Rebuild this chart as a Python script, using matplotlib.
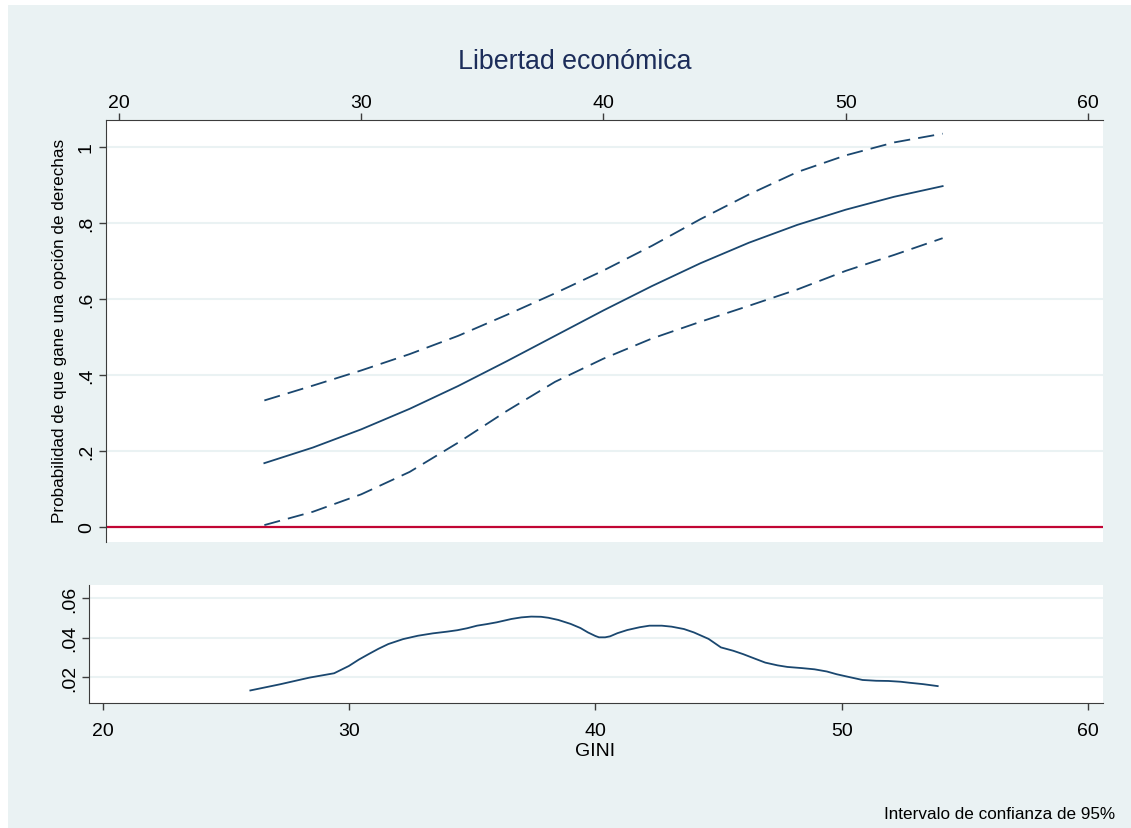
import matplotlib
matplotlib.use("Agg")
import matplotlib.pyplot as plt
from matplotlib.patches import Rectangle

plt.rcParams['font.family'] = ['Liberation Sans', 'DejaVu Sans']

# ---- data ----
gini = [26, 28, 30, 32, 34, 36, 38, 40, 42, 44, 46, 48, 50, 52, 54]
prob = [0.168, 0.209, 0.257, 0.311, 0.371, 0.436, 0.503, 0.570, 0.634,
        0.694, 0.748, 0.795, 0.835, 0.869, 0.897]
upper = [0.333, 0.372, 0.412, 0.455, 0.503, 0.558, 0.615, 0.675, 0.740,
         0.810, 0.875, 0.934, 0.978, 1.012, 1.035]
lower = [0.005, 0.040, 0.086, 0.145, 0.222, 0.305, 0.382, 0.443, 0.496,
         0.540, 0.582, 0.625, 0.674, 0.716, 0.760]

dens_x = [26.0, 27.2, 28.4, 29.4, 30.0, 30.4, 30.8, 31.2, 31.6, 32.2, 32.8,
          33.4, 34.0, 34.4, 34.8, 35.2, 35.6, 36.0, 36.6, 37.0, 37.4, 37.8,
          38.1, 38.5, 39.0, 39.4, 39.7, 40.0, 40.15, 40.4, 40.6, 40.9, 41.3,
          41.8, 42.2, 42.7, 43.1, 43.6, 44.0, 44.6, 45.1, 45.6, 46.0, 46.5,
          46.9, 47.4, 47.8, 48.4, 48.9, 49.4, 49.8, 50.3, 50.85, 51.4, 51.9,
          52.4, 52.75, 53.3, 53.9]
dens_y = [0.0132, 0.0163, 0.0197, 0.0219, 0.0256, 0.0288, 0.0316, 0.0343,
          0.0367, 0.0392, 0.0409, 0.0421, 0.0430, 0.0437, 0.0447, 0.0460,
          0.0468, 0.0477, 0.0494, 0.0502, 0.0506, 0.0505, 0.0500, 0.0489,
          0.0469, 0.0448, 0.0426, 0.0408, 0.0401, 0.0401, 0.0406, 0.0422,
          0.0438, 0.0452, 0.0460, 0.0460, 0.0455, 0.0443, 0.0426, 0.0393,
          0.0350, 0.0333, 0.0316, 0.0292, 0.0273, 0.0259, 0.0251, 0.0245,
          0.0239, 0.0228, 0.0214, 0.0200, 0.0185, 0.0181, 0.0180, 0.0176,
          0.0171, 0.0164, 0.0154]

x_ticks = [20, 30, 40, 50, 60]
y_ticks_top = [0, 0.2, 0.4, 0.6, 0.8, 1.0]
y_labels_top = ['0', '.2', '.4', '.6', '.8', '1']
y_ticks_bot = [0.02, 0.04, 0.06]
y_labels_bot = ['.02', '.04', '.06']

title = 'Libertad económica'
ylabel = 'Probabilidad de que gane una opción de derechas'
xlabel = 'GINI'
note = 'Intervalo de confianza de 95%'

# ---- styling ----
W, H = 1131, 829
BG = '#eaf2f3'
LINE = '#1a476f'
RED = '#c10534'
SPINE = '#3c3c3c'
GRID = '#eaf2f3'

fig = plt.figure(figsize=(W / 100, H / 100), dpi=100, facecolor='white')
fig.patches.append(Rectangle((8 / W, 0), 1 - 8 / W, 1 - 6 / H,
                             transform=fig.transFigure, facecolor=BG,
                             edgecolor='none', zorder=-10))


def box(l, t, r, b):
    return [l / W, 1 - b / H, (r - l) / W, (b - t) / H]


ax1 = fig.add_axes(box(106, 121, 1103, 543))
ax2 = fig.add_axes(box(89, 586, 1103, 704))

for ax in (ax1, ax2):
    ax.set_facecolor('white')
    for s in ax.spines.values():
        s.set_visible(False)
    ax.set_xticks(x_ticks)
    ax.tick_params(axis='both', colors=SPINE, labelcolor='black',
                   labelsize=14, length=5, width=1, direction='out', pad=3)

# top panel
ax1.set_xlim(19.463, 60.62)
ax1.set_ylim(-0.0395, 1.071)
ax1.spines['left'].set_visible(True)
ax1.spines['top'].set_visible(True)
ax1.spines['left'].set_color(SPINE)
ax1.spines['top'].set_color(SPINE)
ax1.xaxis.tick_top()
ax1.tick_params(axis='x', pad=1.5)
ax1.set_yticks(y_ticks_top)
ax1.set_yticklabels(y_labels_top, rotation=90, va='center')
for yv in y_ticks_top[1:]:
    ax1.axhline(yv, color=GRID, lw=1.5, zorder=0)
ax1.axhline(0, color=RED, lw=1.6, zorder=1)
ax1.plot(gini, prob, color=LINE, lw=1.3, zorder=3)
ax1.plot(gini, upper, color=LINE, lw=1.3, dashes=(9, 4.5), zorder=3)
ax1.plot(gini, lower, color=LINE, lw=1.3, dashes=(9, 4.5), zorder=3)

# bottom panel
ax2.set_xlim(19.45, 60.61)
ax2.set_ylim(0.00684, 0.0666)
ax2.spines['left'].set_visible(True)
ax2.spines['bottom'].set_visible(True)
ax2.spines['left'].set_color(SPINE)
ax2.spines['bottom'].set_color(SPINE)
ax2.tick_params(axis='x', pad=9)
ax2.set_yticks(y_ticks_bot)
ax2.set_yticklabels(y_labels_bot, rotation=90, va='center')
for yv in y_ticks_bot:
    ax2.axhline(yv, color=GRID, lw=1.5, zorder=0)
ax2.plot(dens_x, dens_y, color=LINE, lw=1.3, zorder=3)

# texts
fig.text(575 / W, 1 - 62 / H, title, ha='center', va='center',
         fontsize=19.3, color='#1c2d5a')
fig.text(60 / W, 1 - 331 / H, ylabel, ha='center', va='center',
         rotation=90, fontsize=12.3, color='black')
fig.text(595 / W, 1 - 752 / H, xlabel, ha='center', va='center',
         fontsize=14, color='black')
fig.text(1115 / W, 1 - 815 / H, note, ha='right', va='center',
         fontsize=12.3, color='black')

fig.savefig('out.png', dpi=100, facecolor=fig.get_facecolor())
